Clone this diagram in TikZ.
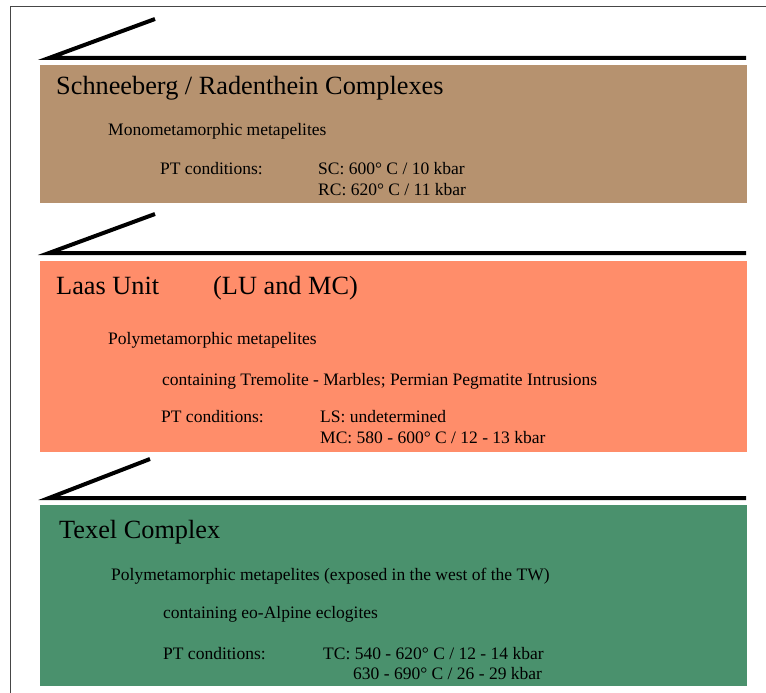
\documentclass[tikz,border=0pt]{standalone}
\usepackage{fontspec}
\setmainfont{Liberation Serif}
\definecolor{schneeberg}{RGB}{182,146,111}
\definecolor{laas}{RGB}{255,141,106}
\definecolor{texel}{RGB}{74,145,109}
\definecolor{frame}{RGB}{70,70,70}

\begin{document}
\begin{tikzpicture}[x=1pt,y=-1pt,
  ttl/.style={anchor=base west,inner sep=0pt,font=\fontsize{26.3}{30}\selectfont},
  txt/.style={anchor=base west,inner sep=0pt,font=\fontsize{17.5}{21}\selectfont}]
\useasboundingbox (0,0) rectangle (766,693);
\draw[frame,line width=1pt] (10.5,693)--(10.5,7)--(766,7);
% thrust planes
\foreach \y/\t in {58/155,253/155,498/150}{\draw[line width=4pt] (\t,\y-39)--(49,\y)--(746,\y);}
% units
\fill[schneeberg] (40,65) rectangle (747,203);
\fill[laas] (40,261) rectangle (747,452);
\fill[texel] (40,505) rectangle (747,686);
\begin{scope}
\node[ttl] (sr) at (56,95) {Schneeberg / Radenthein Complexes};
\node[txt] (srrock) at (108,135) {Monometamorphic metapelites};
\node[txt] (srpt) at (160,174) {PT conditions:};
\node[txt] (srsc) at (318,174) {SC: 600° C / 10 kbar};
\node[txt] (srrc) at (318,195) {RC: 620° C / 11 kbar};
\end{scope}
\begin{scope}
\node[ttl] (lu) at (56,294) {Laas Unit};
\node[ttl] (lumc) at (213,294) {(LU and MC)};
\node[txt] (lurock) at (108,344) {Polymetamorphic metapelites};
\node[txt] (lucont) at (162,385) {containing Tremolite - Marbles; Permian Pegmatite Intrusions};
\node[txt] (lupt) at (161,422) {PT conditions:};
\node[txt] (luls) at (320,422) {LS: undetermined};
\node[txt] (lumcpt) at (320,443) {MC: 580 - 600° C / 12 - 13 kbar};
\end{scope}
\begin{scope}
\node[ttl] (tc) at (59,538) {Texel Complex};
\node[txt] (tcrock) at (111,580) {Polymetamorphic metapelites (exposed in the west of the TW)};
\node[txt] (tccont) at (163,618) {containing eo-Alpine eclogites};
\node[txt] (tcpt) at (163,659) {PT conditions:};
\node[txt] (tcpta) at (323,659) {TC: 540 - 620° C / 12 - 14 kbar};
\node[txt] (tcptb) at (353,679) {630 - 690° C / 26 - 29 kbar};
\end{scope}
\end{tikzpicture}
\end{document}
